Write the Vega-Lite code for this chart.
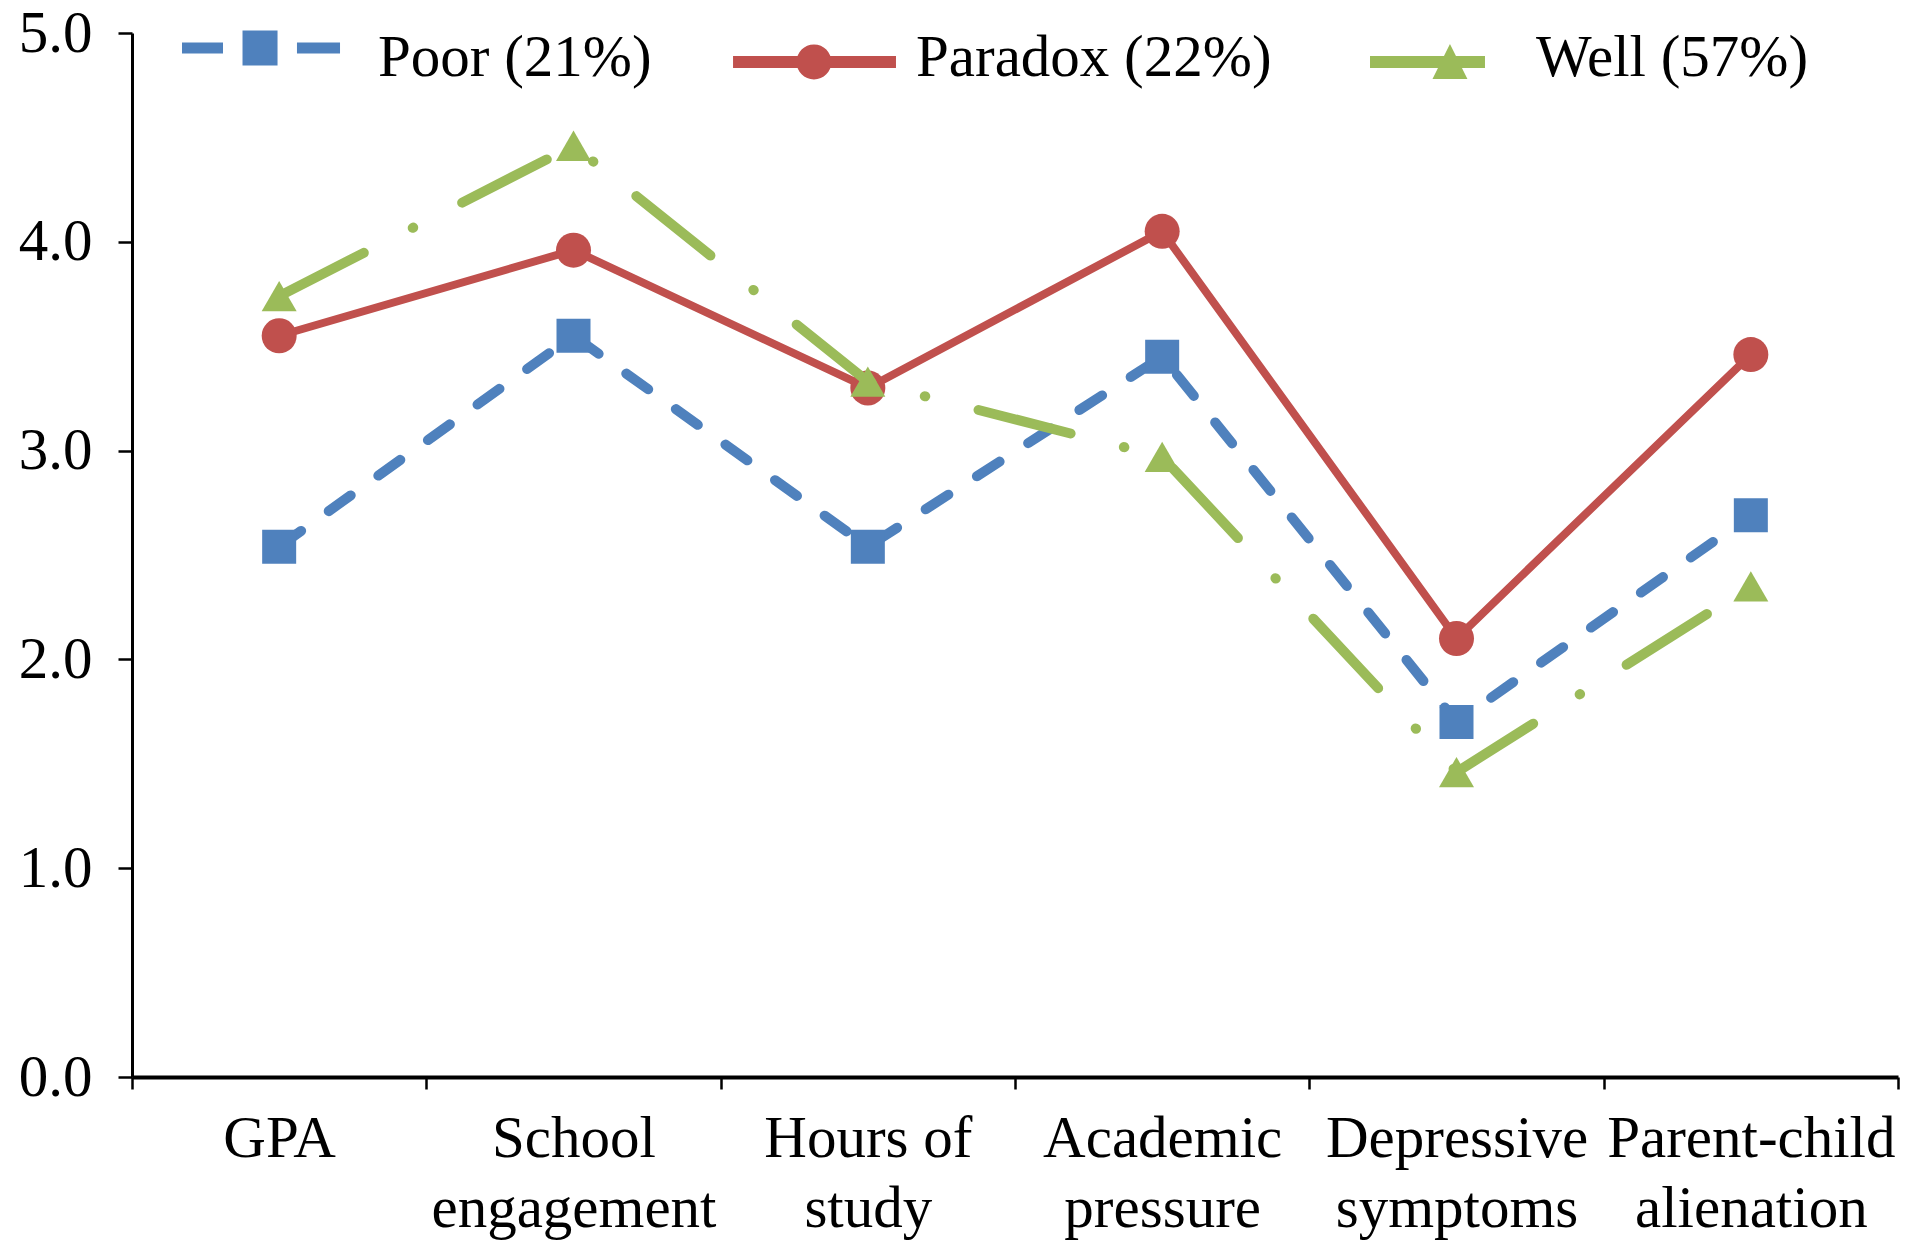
{
  "$schema": "https://vega.github.io/schema/vega-lite/v6.json",
  "width": 1766,
  "height": 1044,
  "autosize": {"type": "none"},
  "padding": {"left": 132, "top": 33, "right": 22, "bottom": 179},
  "background": "white",
  "config": {
    "view": {"stroke": null},
    "font": "Liberation Serif",
    "legend": {
      "symbolSize": 26896,
      "symbolStrokeWidth": 0,
      "labelFont": "Liberation Serif",
      "labelFontSize": 59,
      "labelColor": "black",
      "labelOffset": 37,
      "columnPadding": 63,
      "padding": 0,
      "labelLimit": 0
    }
  },
  "data": {
    "values": [
      {"group": "Poor (21%)", "measure": "GPA", "value": 2.54},
      {"group": "Poor (21%)", "measure": "School engagement", "value": 3.55},
      {"group": "Poor (21%)", "measure": "Hours of study", "value": 2.54},
      {"group": "Poor (21%)", "measure": "Academic pressure", "value": 3.45},
      {"group": "Poor (21%)", "measure": "Depressive symptoms", "value": 1.70},
      {"group": "Poor (21%)", "measure": "Parent-child alienation", "value": 2.69},
      {"group": "Paradox (22%)", "measure": "GPA", "value": 3.55},
      {"group": "Paradox (22%)", "measure": "School engagement", "value": 3.96},
      {"group": "Paradox (22%)", "measure": "Hours of study", "value": 3.30},
      {"group": "Paradox (22%)", "measure": "Academic pressure", "value": 4.05},
      {"group": "Paradox (22%)", "measure": "Depressive symptoms", "value": 2.10},
      {"group": "Paradox (22%)", "measure": "Parent-child alienation", "value": 3.46},
      {"group": "Well (57%)", "measure": "GPA", "value": 3.74},
      {"group": "Well (57%)", "measure": "School engagement", "value": 4.46},
      {"group": "Well (57%)", "measure": "Hours of study", "value": 3.33},
      {"group": "Well (57%)", "measure": "Academic pressure", "value": 2.97},
      {"group": "Well (57%)", "measure": "Depressive symptoms", "value": 1.46},
      {"group": "Well (57%)", "measure": "Parent-child alienation", "value": 2.35}
    ]
  },
  "encoding": {
    "x": {
      "field": "measure",
      "type": "nominal",
      "sort": ["GPA", "School engagement", "Hours of study", "Academic pressure", "Depressive symptoms", "Parent-child alienation"],
      "scale": {"type": "band", "paddingInner": 0, "paddingOuter": 0},
      "axis": {
        "title": null,
        "labelAngle": 0,
        "labelFont": "Liberation Serif",
        "labelFontSize": 59,
        "labelColor": "black",
        "labelLineHeight": 70,
        "labelPadding": 20,
        "labelLimit": 0,
        "labelExpr": "datum.label == 'Hours of study' ? ['Hours of', 'study'] : split(datum.label, ' ')",
        "tickBand": "extent",
        "tickSize": 12,
        "tickWidth": 2.5,
        "tickColor": "black",
        "domainColor": "black",
        "domainWidth": 4,
        "grid": false
      }
    },
    "y": {
      "field": "value",
      "type": "quantitative",
      "scale": {"domain": [0, 5], "nice": false},
      "axis": {
        "title": null,
        "values": [0, 1, 2, 3, 4, 5],
        "format": ".1f",
        "labelFont": "Liberation Serif",
        "labelFontSize": 59,
        "labelColor": "black",
        "labelPadding": 26,
        "tickSize": 14,
        "tickWidth": 2.5,
        "tickColor": "black",
        "domainColor": "black",
        "domainWidth": 3,
        "grid": false
      }
    }
  },
  "layer": [
    {
      "transform": [{"filter": "datum.group == 'Poor (21%)'"}],
      "layer": [
        {"mark": {"type": "line", "color": "#4F81BD", "strokeWidth": 10, "strokeDash": [27, 34], "strokeCap": "round", "strokeJoin": "round"}},
        {"mark": {"type": "point", "shape": "square", "filled": true, "opacity": 1, "color": "#4F81BD", "size": 1156}}
      ]
    },
    {
      "transform": [{"filter": "datum.group == 'Paradox (22%)'"}],
      "layer": [
        {"mark": {"type": "line", "color": "#C0504D", "strokeWidth": 8, "strokeCap": "round", "strokeJoin": "round"}},
        {"mark": {"type": "point", "shape": "circle", "filled": true, "opacity": 1, "color": "#C0504D", "size": 1225}}
      ]
    },
    {
      "transform": [{"filter": "datum.group == 'Well (57%)'"}],
      "layer": [
        {"mark": {"type": "line", "color": "#9BBB59", "strokeWidth": 10, "strokeDash": [95, 55, 0.5, 55], "strokeCap": "round", "strokeJoin": "round"}},
        {"mark": {"type": "point", "shape": "triangle-up", "filled": true, "opacity": 1, "color": "#9BBB59", "size": 1225}}
      ]
    },
    {
      "transform": [{"filter": "false"}],
      "mark": {"type": "point", "filled": true, "opacity": 1, "strokeWidth": 0},
      "encoding": {
        "color": {
          "field": "group",
          "type": "nominal",
          "scale": {"domain": ["Poor (21%)", "Paradox (22%)", "Well (57%)"], "range": ["#4F81BD", "#C0504D", "#9BBB59"]},
          "legend": {"title": null, "orient": "none", "direction": "horizontal", "legendX": 45, "legendY": -57}
        },
        "shape": {
          "field": "group",
          "type": "nominal",
          "scale": {
            "domain": ["Poor (21%)", "Paradox (22%)", "Well (57%)"],
            "range": [
              "M-0.939,-0.189L-0.439,-0.189L-0.439,-0.055L-0.939,-0.055Z M-0.201,-0.335L0.226,-0.335L0.226,0.091L-0.201,0.091Z M0.463,-0.189L0.988,-0.189L0.988,-0.055L0.463,-0.055Z",
              "M-0.78,-0.024L1.207,-0.024L1.207,0.122L-0.78,0.122Z M-0.006,0.049A0.213,0.213 0 1,1 0.42,0.049A0.213,0.213 0 1,1 -0.006,0.049Z",
              "M-0.573,-0.023L0.829,-0.023L0.829,0.123L-0.573,0.123Z M0.402,-0.17L0.615,0.257L0.189,0.257Z"
            ]
          },
          "legend": {"title": null, "orient": "none", "direction": "horizontal", "legendX": 45, "legendY": -57}
        }
      }
    }
  ]
}
